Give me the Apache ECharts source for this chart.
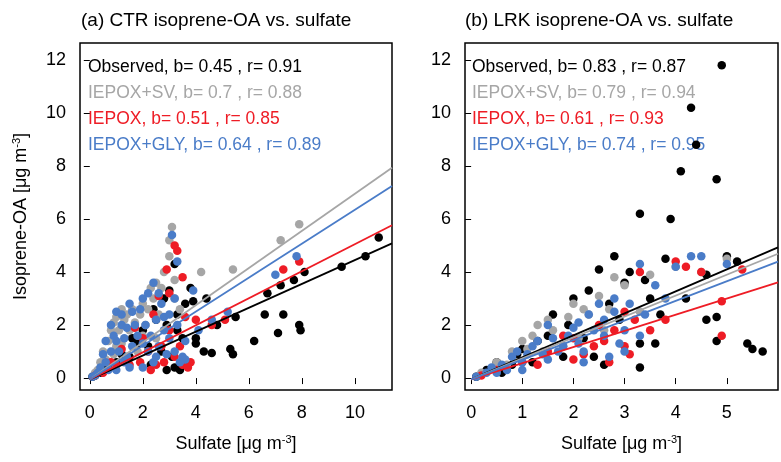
<!DOCTYPE html>
<html>
<head>
<meta charset="utf-8">
<script src="https://cdn.jsdelivr.net/npm/echarts@6/dist/echarts.min.js"></script>
<style>
  html, body { margin: 0; padding: 0; background: #fff; }
  #chart { width: 781px; height: 462px; }
</style>
</head>
<body>
<div id="chart"></div>
<script>
// ---- data ----
const seriesNames = ['Observed', 'IEPOX+SV', 'IEPOX', 'IEPOX+GLY'];
const colors = ['#000000', '#a6a6a6', '#ee1c25', '#4a7cc8'];

// panel (a) CTR
const ctrSlope = [0.45, 0.7, 0.51, 0.64];
const ctrR = [0.91, 0.88, 0.85, 0.89];
const ctrObs = [[0.1,0.05],[0.2,0.1],[0.4,0.2],[0.5,0.3],[0.7,0.5],[1.0,0.6],[1.2,0.9],[1.5,0.8],[1.8,1.3],[2.0,1.8],[2.2,1.2],[2.3,0.5],[2.7,1.0],[2.9,2.0],[3.0,3.3],[3.2,4.3],[3.3,2.4],[3.4,0.3],[3.5,1.5],[3.8,3.4],[4.0,1.3],[4.3,1.0],[4.6,0.95],[4.8,2.0],[5.3,1.1],[5.4,0.9],[5.5,2.3],[6.2,1.4],[6.6,2.4],[6.7,3.2],[7.1,1.7],[7.2,3.5],[7.3,2.4],[7.7,3.7],[7.9,2.0],[7.95,1.8],[8.1,4.0],[9.5,4.2],[10.4,4.6],[10.9,5.3],[2.5,2.2],[1.6,1.5],[3.6,0.6],[2.8,3.0],[3.1,0.8],[3.3,1.8],[3.6,2.8],[4.0,1.5],[3.2,0.4],[2.9,0.3],[2.4,2.6],[3.9,2.9],[4.4,3.0],[3.5,0.5]];
const ctrSv = [[0.2,0.2],[0.3,0.3],[0.5,1.0],[0.6,0.7],[0.8,1.8],[1.0,2.3],[1.0,1.2],[1.2,1.3],[1.3,2.2],[1.5,1.8],[1.6,2.6],[1.8,1.0],[2.0,2.8],[2.1,2.0],[2.3,3.4],[2.5,3.6],[2.5,1.5],[2.8,4.0],[3.0,5.2],[3.1,5.7],[3.2,3.0],[3.4,2.6],[4.2,4.0],[5.4,4.1],[7.2,5.2],[7.9,5.8],[0.9,0.9],[1.9,2.4],[0.7,1.4],[0.9,2.1],[1.1,1.8],[1.4,2.4],[1.7,2.1],[2.2,2.6],[2.4,3.0],[2.7,3.4],[0.4,0.6],[1.2,2.6],[2.0,1.6],[2.6,2.4],[3.0,4.6],[3.2,3.7]];
const ctrIepox = [[0.2,0.1],[0.5,0.2],[1.0,0.5],[1.2,1.1],[1.5,0.5],[2.0,1.5],[2.3,0.3],[2.6,3.1],[2.8,0.6],[2.9,4.1],[3.2,5.0],[3.3,4.8],[3.5,3.8],[3.5,0.5],[3.0,1.8],[4.0,2.2],[4.6,2.0],[5.1,2.2],[7.3,4.1],[7.9,4.4],[1.7,1.9],[2.4,2.4],[3.8,0.6],[0.8,0.6],[2.7,1.2],[3.2,0.8],[2.5,0.5],[3.0,3.2],[3.4,1.2],[3.7,0.4],[2.2,1.0],[1.9,0.6],[3.6,2.3]];
const ctrGly = [[0.1,0.05],[0.2,0.1],[0.4,0.4],[0.6,0.6],[0.8,2.0],[0.8,1.0],[1.0,2.5],[1.0,1.4],[1.3,1.5],[1.4,0.8],[1.5,2.8],[1.7,2.0],[2.0,3.0],[2.0,1.3],[2.2,1.0],[2.4,3.6],[2.5,2.2],[2.8,2.3],[3.1,5.4],[3.3,4.4],[3.2,1.0],[3.5,0.8],[3.6,0.7],[3.9,3.3],[4.1,1.8],[4.6,2.2],[5.2,2.5],[7.0,3.9],[7.8,4.6],[1.2,2.0],[2.6,3.2],[3.0,1.5],[0.5,0.9],[0.6,1.4],[0.7,0.3],[0.9,1.6],[1.1,1.0],[1.2,2.4],[1.3,0.6],[1.4,1.9],[1.6,1.2],[1.6,2.5],[1.8,1.6],[1.9,2.6],[2.1,2.0],[2.2,3.2],[2.3,1.6],[2.4,0.6],[2.6,1.2],[2.7,2.8],[2.8,1.8],[2.9,0.9],[3.0,2.4],[3.2,3.0],[3.4,0.6],[3.6,1.4],[0.3,0.2],[1.0,0.3],[1.5,0.4],[2.0,0.4],[2.5,0.8],[3.3,2.0]];

// panel (b) LRK
const lrkSlope = [0.83, 0.79, 0.61, 0.74];
const lrkR = [0.87, 0.94, 0.93, 0.95];
const lrkObs = [[0.1,0.05],[0.3,0.3],[0.5,0.6],[0.8,0.5],[1.0,1.1],[1.2,0.6],[1.5,1.6],[1.8,0.8],[2.0,3.0],[2.2,1.5],[2.5,4.1],[2.6,0.5],[2.8,4.6],[3.0,3.6],[3.3,6.2],[3.3,1.3],[3.3,0.4],[3.6,1.3],[3.8,4.5],[3.9,6.0],[4.1,7.8],[4.3,10.2],[4.4,8.8],[4.6,2.2],[4.6,3.9],[4.8,7.5],[4.8,2.3],[4.8,1.4],[4.9,11.8],[5.0,4.6],[5.2,4.4],[5.4,1.3],[5.5,1.1],[5.7,1.0],[2.9,2.2],[1.6,2.4],[3.5,3.0],[4.2,3.0],[0.6,0.2],[1.3,1.4],[2.3,3.3],[2.7,2.8],[3.1,4.0],[3.4,3.7],[3.7,2.4],[2.4,0.8],[1.9,2.0],[0.9,0.9]];
const lrkSv = [[0.2,0.2],[0.5,0.6],[0.8,1.0],[1.0,1.4],[1.2,1.6],[1.5,2.2],[1.8,1.2],[2.0,2.8],[2.2,2.6],[2.5,3.1],[2.8,3.8],[3.0,3.5],[3.3,2.5],[3.5,3.9],[4.0,4.2],[4.5,4.0],[5.0,4.5],[1.4,1.0],[2.6,1.8],[1.1,1.1],[1.6,1.8],[1.9,2.3],[2.3,2.4],[2.7,2.6],[0.7,0.5],[1.3,2.0],[2.1,1.5]];
const lrkIepox = [[0.2,0.1],[0.5,0.3],[1.0,0.6],[1.5,1.0],[2.0,1.5],[2.5,2.0],[2.7,0.6],[3.0,2.5],[3.0,1.2],[3.3,4.0],[3.5,1.8],[3.8,2.2],[4.0,4.4],[4.2,4.2],[4.5,4.0],[4.9,2.9],[4.9,1.6],[5.3,4.1],[2.2,0.9],[1.8,1.6],[2.4,1.2],[2.8,1.8],[3.2,2.2],[2.0,0.7],[1.3,0.5],[2.6,1.4],[3.1,0.9]];
const lrkGly = [[0.1,0.05],[0.3,0.2],[0.6,0.5],[0.8,0.8],[1.0,0.6],[1.2,1.2],[1.4,0.9],[1.6,1.5],[1.8,1.2],[2.0,1.9],[2.2,1.0],[2.3,2.4],[2.5,2.8],[2.7,0.8],[2.8,2.5],[3.0,1.8],[3.3,4.3],[3.3,1.6],[3.6,3.5],[3.8,3.0],[4.0,4.2],[4.3,4.6],[4.5,4.6],[5.0,4.3],[1.5,2.0],[2.6,1.6],[0.4,0.4],[0.7,0.3],[0.9,1.0],[1.1,0.9],[1.3,1.4],[1.5,0.7],[1.7,1.0],[1.9,1.6],[2.1,1.3],[2.1,2.1],[2.4,1.8],[2.6,2.2],[2.9,1.3],[3.1,2.8],[3.4,2.4],[2.2,0.6],[1.0,0.3],[0.5,0.2],[3.0,1.0],[2.8,3.0]];

const xMaxA = 11.4, xMaxB = 6.0;

const chart = echarts.init(document.getElementById('chart'));
const font = 'Liberation Sans, Arial, sans-serif';
const yTicks = [0, 2, 4, 6, 8, 10, 12];
const xTicksA = [0, 2, 4, 6, 8, 10];
const xTicksB = [0, 1, 2, 3, 4, 5];

function fitLine(slope, xmax) {
  return [[0, -0.05], [xmax, slope * xmax - 0.05]];
}
const rich = { s: { fontSize: 11, verticalAlign: 'top', padding: [0, 0, 10, 0] } };

function xAxis(idx, min, max, ticks) {
  return {
    gridIndex: idx, type: 'value', min: min, max: max,
    splitLine: { show: false },
    axisLine: { show: false },
    axisTick: { show: true, length: 6, customValues: ticks, lineStyle: { color: '#000' } },
    axisLabel: { color: '#000', fontSize: 18, fontFamily: font, margin: 14, customValues: ticks },
    name: 'Sulfate [μg m{s|-3}]', nameLocation: 'middle', nameGap: 44,
    nameTextStyle: { color: '#000', fontSize: 18, fontFamily: font, rich: rich }
  };
}
function yAxis(idx, showName) {
  return {
    gridIndex: idx, type: 'value', min: -0.45, max: 12.64,
    splitLine: { show: false },
    axisLine: { show: false },
    axisTick: { show: true, length: 6, customValues: yTicks, lineStyle: { color: '#000' } },
    axisLabel: { color: '#000', fontSize: 18, fontFamily: font, margin: 14, customValues: yTicks },
    name: showName ? 'Isoprene-OA [μg m{s|-3}]' : '', nameLocation: 'middle', nameGap: 48,
    nameTextStyle: { color: '#000', fontSize: 18, fontFamily: font, rich: rich }
  };
}

const series = [];
function addPanel(idx, pts, slopes, xmax) {
  pts.forEach((d, i) => series.push({
    name: seriesNames[i], type: 'scatter', xAxisIndex: idx, yAxisIndex: idx,
    data: d, symbolSize: 8.5, itemStyle: { color: colors[i], opacity: 1 }, silent: true
  }));
  [0, 1, 2, 3].forEach(i => series.push({
    type: 'line', xAxisIndex: idx, yAxisIndex: idx, data: fitLine(slopes[i], xmax),
    symbol: 'none', lineStyle: { color: colors[i], width: 1.8 }, z: 5, silent: true
  }));
}
addPanel(0, [ctrObs, ctrSv, ctrIepox, ctrGly], ctrSlope, xMaxA);
addPanel(1, [lrkObs, lrkSv, lrkIepox, lrkGly], lrkSlope, xMaxB);

function legendText(left, slopes, rs) {
  return seriesNames.map((n, i) => ({
    type: 'text', left: left, top: 58 + i * 26,
    style: { text: n + ', b= ' + slopes[i] + ' , r= ' + rs[i], fill: colors[i],
      fontSize: 17.5, fontFamily: font }
  }));
}

chart.setOption({
  animation: false,
  grid: [
    { left: 80, top: 43, width: 312, height: 347, show: true, borderColor: '#000', borderWidth: 1.5, backgroundColor: 'transparent' },
    { left: 465, top: 43, width: 313, height: 347, show: true, borderColor: '#000', borderWidth: 1.5, backgroundColor: 'transparent' }
  ],
  title: [
    { text: '(a) CTR isoprene-OA vs. sulfate', left: 76, top: 6, textStyle: { fontSize: 19, fontWeight: 'normal', fontFamily: font, color: '#000' } },
    { text: '(b) LRK isoprene-OA vs. sulfate', left: 460, top: 6, textStyle: { fontSize: 19, fontWeight: 'normal', fontFamily: font, color: '#000' } }
  ],
  xAxis: [xAxis(0, -0.37, xMaxA, xTicksA), xAxis(1, -0.12, xMaxB, xTicksB)],
  yAxis: [yAxis(0, true), yAxis(1, false)],
  series: series,
  graphic: legendText(88, ctrSlope, ctrR).concat(legendText(472, lrkSlope, lrkR))
});
</script>
</body>
</html>
